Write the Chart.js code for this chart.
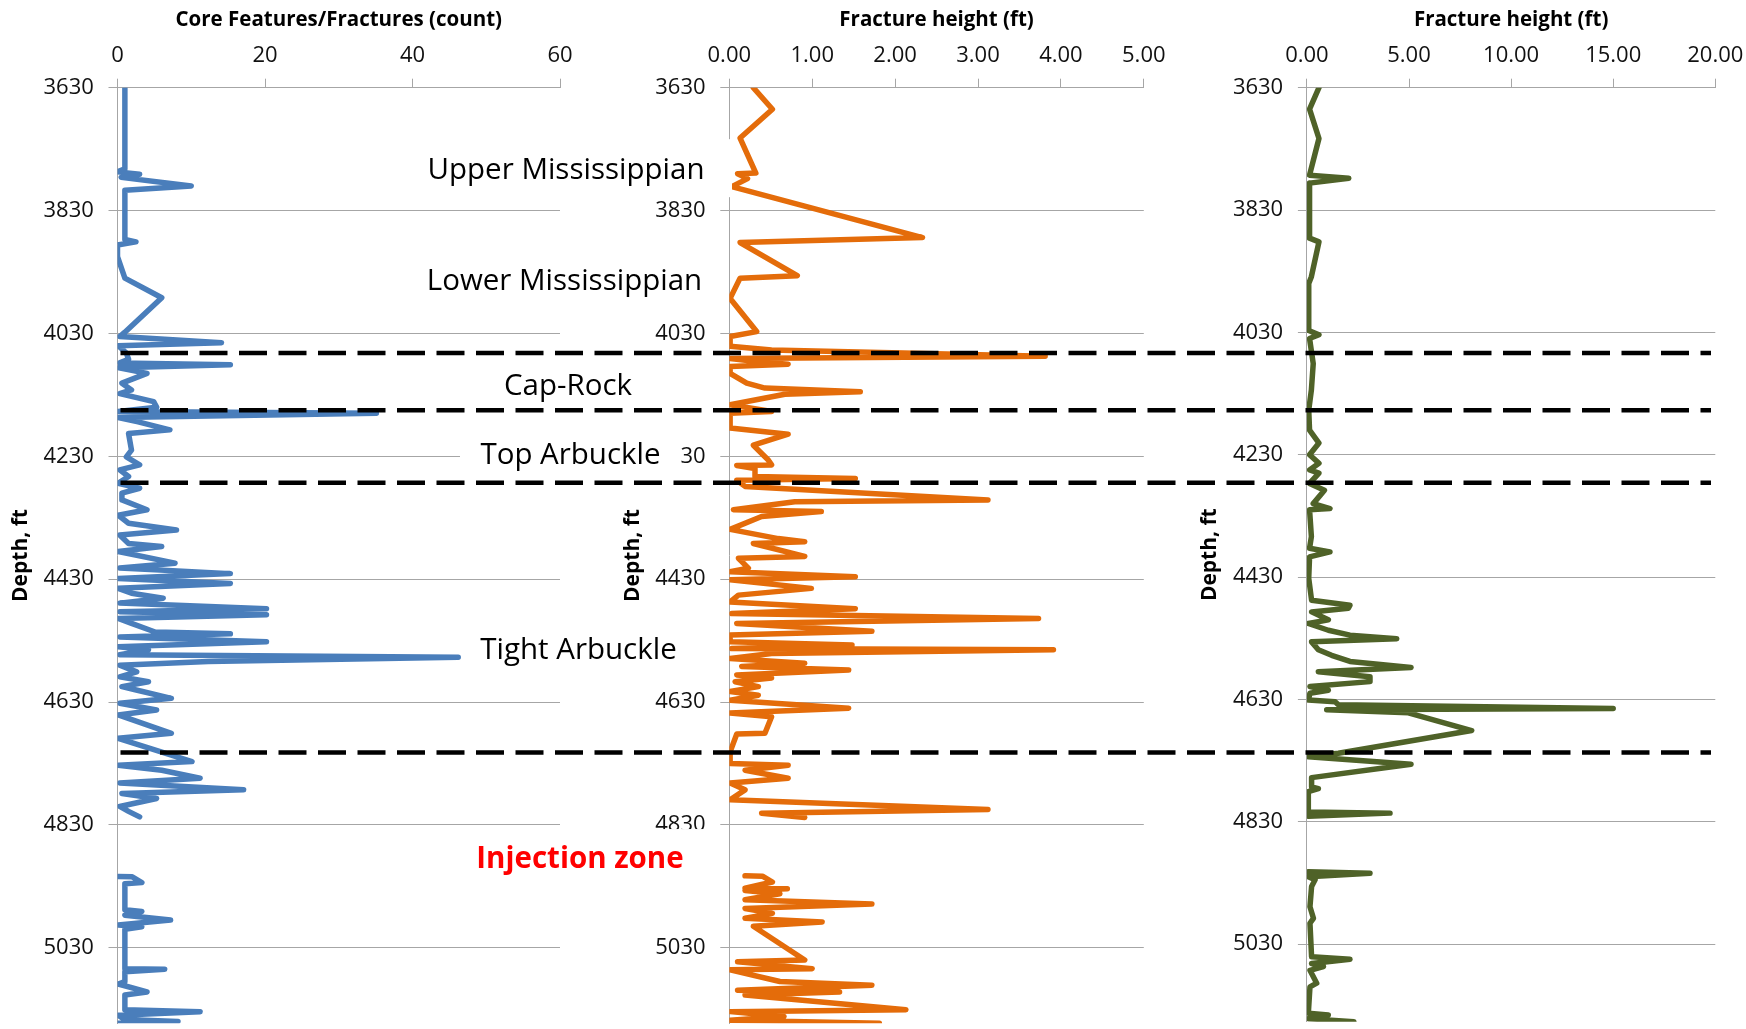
<!DOCTYPE html>
<html><head><meta charset="utf-8">
<script src="https://cdn.jsdelivr.net/npm/chart.js@4.4.1/dist/chart.umd.min.js"></script>
<style>
html,body{margin:0;padding:0;background:#fff;}
#wrap{position:relative;width:1746px;height:1029px;overflow:hidden;background:#fff;}
canvas{position:absolute;left:0;top:0;}
</style></head><body>
<div id="wrap">
<canvas id="c1" width="1746" height="1029"></canvas>
<canvas id="c2" width="1746" height="1029"></canvas>
<canvas id="c3" width="1746" height="1029"></canvas>
</div>
<script>
// ---------------- DATA ----------------
const depthTicks = [3630, 3830, 4030, 4230, 4430, 4630, 4830, 5030];

const blueDepth = [3630,3762,3767,3771,3776,3790,3797,3877,3881,3886,3905,3940,3972,4028,4035,4038,4045,4050,4062,4072,4078,4081,4086,4095,4111,4122,4128,4141,4150,4157,4160,4167,4174,4187,4193,4220,4231,4244,4252,4263,4274,4282,4290,4301,4317,4326,4339,4350,4358,4372,4377,4385,4404,4412,4421,4429,4437,4445,4453,4461,4469,4478,4483,4488,4494,4502,4516,4519,4524,4532,4540,4545,4553,4557,4564,4570,4581,4589,4597,4605,4610,4624,4632,4643,4651,4681,4689,4727,4733,4741,4754,4762,4773,4779,4787,4800,4808,4817,null,4914,4914.5,4924,4926,4968,4971,4977,4985,4993,4996,5000,5064,5065,5069,5085,5089,5102,5107,5131,5134,5140,5147,5150,5153];
const blueCount = [1,1,0,3,0.5,10,1,1,2.5,0,0,1,6,1,0.3,4.2,14.1,0.1,1.2,1.5,0.3,15.3,0.2,4,0.6,1.9,0.3,4.9,5.3,0.1,35.1,0.1,2.8,7.1,1.5,1.9,1.2,3,0.3,1.5,0.1,3,0.6,0.6,4,0.1,1.5,8,0.3,1.5,6,0.1,7.8,0.3,15.3,0.1,15.3,0.1,1.9,6.2,0.3,20.2,0.3,20.2,0.1,1.9,5.1,15.3,0.3,20.2,0.1,4.2,0.3,46.2,12.3,0.3,2.6,0.3,4.2,0.6,2.4,7.3,0.3,5.3,0.1,7.3,0.1,10.1,0.1,6,11.2,0.3,17.1,0.6,5.3,0.3,1.5,3,null,0.1,2,3.3,1,1,3.3,1,7.2,0.1,3.3,1,1,6.4,1,1,0.1,4,1,1,11.2,0.1,1,8.2,0.1];

const orangeDepth = [3630,3665,3712,3769,3770,3778,3791,3874,3882,3936,3940,3973,4027,4035,4051,4057,4067,4071,4076,4080,4084,4095,4111,4119,4125,4129,4146,4157,4160,4184,4194,4212,4236,4244,4245,4250,4263,4266,4269,4279,4301,4304,4317,4320,4328,4349,4364,4369,4372,4393,4396,4412,4418,4426,4431,4445,4456,4467,4478,4486,4494,4502,4515,4521,4532,4537,4543,4545,4551,4559,4567,4572,4578,4586,4591,4597,4605,4613,4619,4627,4640,4648,4654,4681,4682,4711,4730,4733,4741,4754,4762,4773,4789,4805,4811,4818,null,4913,4913.5,4923,4933,4934,4937,4942,4952,4959,4966,4974,4982,4988,4995,5050,5053,5064,5066,5085,5091,5099,5102,5107,5131,5134,5142,5148,5153];
const orangeHeight = [0.29,0.52,0.13,0.32,0.1,0.22,0.03,2.33,0.13,0.82,0.13,0.01,0.33,0.01,0.01,0.51,3.81,0.01,0.35,0.71,0.01,0.01,0.21,0.43,1.58,0.67,0.01,0.51,0.01,0.01,0.71,0.29,0.47,0.51,0.09,0.31,0.31,1.52,0.09,0.19,3.12,0.79,0.05,1.11,0.39,0.01,0.59,0.91,0.29,0.91,0.11,0.23,0.01,1.52,0.01,0.99,0.11,0.01,1.52,0.03,3.73,0.09,1.72,0.01,0.01,1.48,0.03,3.91,0.51,0.01,0.91,0.15,1.44,0.09,0.51,0.07,0.35,0.01,0.35,0.01,1.44,0.01,0.51,0.43,0.09,0.01,0.01,0.71,0.19,0.71,0.01,0.19,0.01,3.12,0.39,0.91,null,0.19,0.40,0.52,0.19,0.70,0.19,0.61,0.19,1.72,0.19,0.52,0.19,1.12,0.29,0.91,0.1,1.0,0.01,0.61,1.72,0.1,1.33,0.19,2.13,0.01,0.66,0.01,1.81];

const greenDepth = [3630,3665,3713,3773,3778,3786,3876,3882,3939,3950,4027,4034,4040,4081,4124,4157,4190,4211,4230,4244,4255,4260,4277,4288,4310,4318,4320,4364,4383,4389,4397,4432,4468,4476,4481,4487,4500,4506,4517,4525,4531,4536,4549,4558,4568,4578,4585,4593,4601,4609,4615,4620,4631,4634,4639,4645,4647,4652,4681,4718,4724,4736,4758,4773,4776,4781,4814,4816,4821,null,4912,4914.5,4920,4925,4936,4969,4988,4996,5051,5055,5062,5067,5073,5094,5100,5143,5146,5152,5157];
const greenHeight = [0.59,0.13,0.59,0.13,2.05,0.13,0.13,0.59,0.22,0.09,0.09,0.59,0.13,0.31,0.22,0.09,0.13,0.59,0.13,0.59,0.13,0.59,0.13,0.86,0.31,1.13,0.13,0.22,0.13,1.13,0.13,0.09,0.23,2.11,2.03,0.23,1.05,0.07,1.05,2.11,4.4,0.23,0.56,1.21,2.11,5.1,0.56,3.09,3.09,0.15,1.05,0.15,0.07,1.38,1.54,15.0,0.97,4.97,8.07,1.54,0.07,5.1,0.23,0.23,0.56,0.07,0.07,4.07,0.07,null,0.07,3.09,0.07,0.4,0.23,0.15,0.32,0.15,0.23,2.11,0.23,0.81,0.15,0.48,0.15,0.07,1.05,0.07,2.3];

const zoneNames = ['Upper Mississippian', 'Lower Mississippian', 'Cap-Rock', 'Top Arbuckle', 'Tight Arbuckle', 'Injection zone'];
const zoneDepths = [3761, 3943, 4114, 4225, 4543, 4884];
const boundaryDepths = [4062, 4155, 4273, 4712];

// ---------------- LAYOUT / STYLE ----------------
const FONT = "'Open Sans', 'DejaVu Sans', sans-serif";
const GRID = '#a6a6a6';
const TXT = '#111';
const ZONE_TEXT_X = [566, 564.5, 568, 570.5, 578.5, 580];
const ZONE_BOX = [[401, 732], [405, 724], [483, 652], [460, 681], [463, 698], [458, 707]];

function makePanel(id, depths, values, color, xMin, xMax, xStep, xDec, xTitle, area, yMax, plugins) {
  const pts = depths.map((d, i) => ({x: values[i], y: d}));
  return new Chart(document.getElementById(id), {
    type: 'scatter',
    data: {datasets: [{
      data: pts, showLine: true, spanGaps: false,
      borderColor: color, backgroundColor: color, borderWidth: 5.5,
      pointRadius: 0, pointHoverRadius: 0, tension: 0,
      borderJoinStyle: 'round', borderCapStyle: 'round'
    }]},
    options: {
      responsive: false, animation: false, devicePixelRatio: 1, events: [],
      layout: {padding: {left: area.left - 117.5, right: 1746 - area.right, top: 0, bottom: 1029 - area.bottom}},
      plugins: {legend: {display: false}, tooltip: {enabled: false}},
      scales: {
        x: {
          type: 'linear', position: 'top', min: xMin, max: xMax,
          ticks: {stepSize: xStep, padding: 9.5, color: TXT, font: {family: FONT, size: 22},
                  callback: v => Number(v).toFixed(xDec)},
          grid: {drawOnChartArea: false, drawTicks: true, tickLength: 9, color: GRID},
          border: {display: true, color: GRID, width: 1},
          title: {display: true, text: xTitle, color: '#000',
                  font: {family: FONT, size: 20.5, weight: 'bold'}, padding: {top: 8, bottom: 0}},
          afterFit: s => { s.height = 87.7; s.paddingLeft = 0; s.paddingRight = 0; }
        },
        y: {
          type: 'linear', position: 'left', reverse: true, min: 3630, max: yMax,
          afterBuildTicks: s => { s.ticks = depthTicks.map(v => ({value: v})); },
          ticks: {padding: 14.7, color: TXT, font: {family: FONT, size: 22}, callback: v => String(v)},
          grid: {color: GRID, tickLength: 9, drawTicks: true},
          border: {display: true, color: GRID, width: 1},
          title: {display: true, text: 'Depth, ft', color: '#000',
                  font: {family: FONT, size: 21, weight: 'bold'}, padding: {top: 8.4, bottom: 0}},
          afterFit: s => { s.width = 117.5; s.paddingTop = 0; s.paddingBottom = 0; }
        }
      }
    },
    plugins: plugins || []
  });
}

const chart1 = makePanel('c1', blueDepth, blueCount, '#4a7ebb', 0, 60, 20, 0,
  'Core Features/Fractures (count)', {left: 117.5, right: 560, bottom: 1023.3}, 5153);
const chart2 = makePanel('c2', orangeDepth, orangeHeight, '#e46c0a', 0, 5, 1, 2,
  'Fracture height (ft)', {left: 729.3, right: 1143.8, bottom: 1023.3}, 5153);

const overlay = {
  id: 'overlay',
  afterDraw(chart) {
    const ys = chart1.scales.y;
    const ctx = chart.ctx;
    ctx.save();
    zoneNames.forEach((name, i) => {
      const yc = ys.getPixelForValue(zoneDepths[i]);
      const [l, r] = ZONE_BOX[i];
      ctx.fillStyle = '#fff';
      ctx.fillRect(l, yc - 29, r - l, 58);
      ctx.font = (i === 5 ? 'bold ' : '') + '29.5px ' + FONT;
      ctx.fillStyle = i === 5 ? '#ff0000' : '#000';
      ctx.textAlign = 'center';
      ctx.textBaseline = 'middle';
      ctx.fillText(name, ZONE_TEXT_X[i], yc + 2);
    });
    ctx.strokeStyle = '#000';
    ctx.lineWidth = 4.5;
    ctx.setLineDash([28, 11.5]);
    boundaryDepths.forEach(d => {
      const y = ys.getPixelForValue(d);
      ctx.beginPath();
      ctx.moveTo(120.5, y);
      ctx.lineTo(1711, y);
      ctx.stroke();
    });
    ctx.restore();
  }
};

const chart3 = makePanel('c3', greenDepth, greenHeight, '#4f6228', 0, 20, 5, 2,
  'Fracture height (ft)', {left: 1306.9, right: 1715.3, bottom: 1021.7}, 5157, [overlay]);
</script>
</body></html>
